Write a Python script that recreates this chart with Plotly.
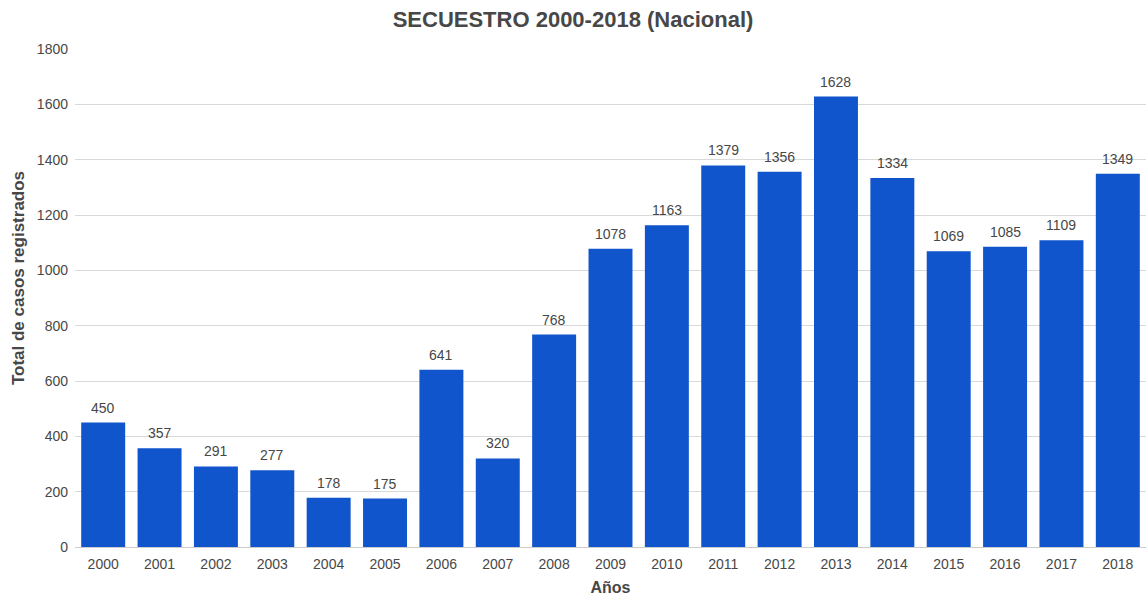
import plotly.graph_objects as go

years = [str(y) for y in range(2000, 2019)]
cases = [450, 357, 291, 277, 178, 175, 641, 320, 768, 1078, 1163, 1379, 1356, 1628, 1334, 1069, 1085, 1109, 1349]
y_ticks = [0, 200, 400, 600, 800, 1000, 1200, 1400, 1600, 1800]

FONT = "Liberation Sans, Arial, sans-serif"
TXT = "#474747"

fig = go.Figure(go.Bar(
    x=years, y=cases,
    marker=dict(color="#1155cc", line=dict(width=0)),
    hoverinfo="x+y",
))

# value labels: category index positions on the category axis
for i, v in enumerate(cases):
    fig.add_annotation(x=i, y=v, xref="x", yref="y", text=str(v), showarrow=False,
                       yanchor="bottom", yshift=5,
                       font=dict(family=FONT, size=14, color=TXT))

# y-axis title (placed as in the reference, slightly above the plot's centre)
fig.add_annotation(x=0, y=0.54, xref="paper", yref="paper", xanchor="center", yanchor="middle",
                   xshift=-57, textangle=-90, showarrow=False,
                   text="<b>Total de casos registrados</b>",
                   font=dict(family=FONT, size=17, color=TXT))

W, H = 1146, 596
fig.update_layout(
    width=W, height=H,
    margin=dict(l=75, r=0, t=49, b=49),
    paper_bgcolor="white", plot_bgcolor="white",
    bargap=0.22,
    showlegend=False,
    font=dict(family=FONT, size=14, color=TXT),
    title=dict(text="<b>SECUESTRO 2000-2018 (Nacional)</b>", x=0.5, xanchor="center",
               y=1 - 19 / H, yanchor="middle",
               font=dict(size=22, color=TXT)),
    xaxis=dict(type="category", range=[-0.5, len(years) - 0.5],
               title=dict(text="<b>Años</b>", font=dict(size=16, color=TXT), standoff=11),
               tickfont=dict(size=14, color=TXT), showgrid=False, ticks="",
               showline=True, linecolor="#cccccc", ticklabelstandoff=4),
    yaxis=dict(range=[0, 1800], tickvals=y_ticks, ticktext=[str(t) for t in y_ticks],
               tickfont=dict(size=14, color=TXT),
               showgrid=True, gridcolor="#d9d9d9", zeroline=False, ticks="", ticklabelstandoff=6),
)

fig.write_html("out.html", config={"displayModeBar": False},
               post_script="document.body.style.margin='0';document.body.style.overflow='hidden';"
                           "document.documentElement.style.overflow='hidden';")
